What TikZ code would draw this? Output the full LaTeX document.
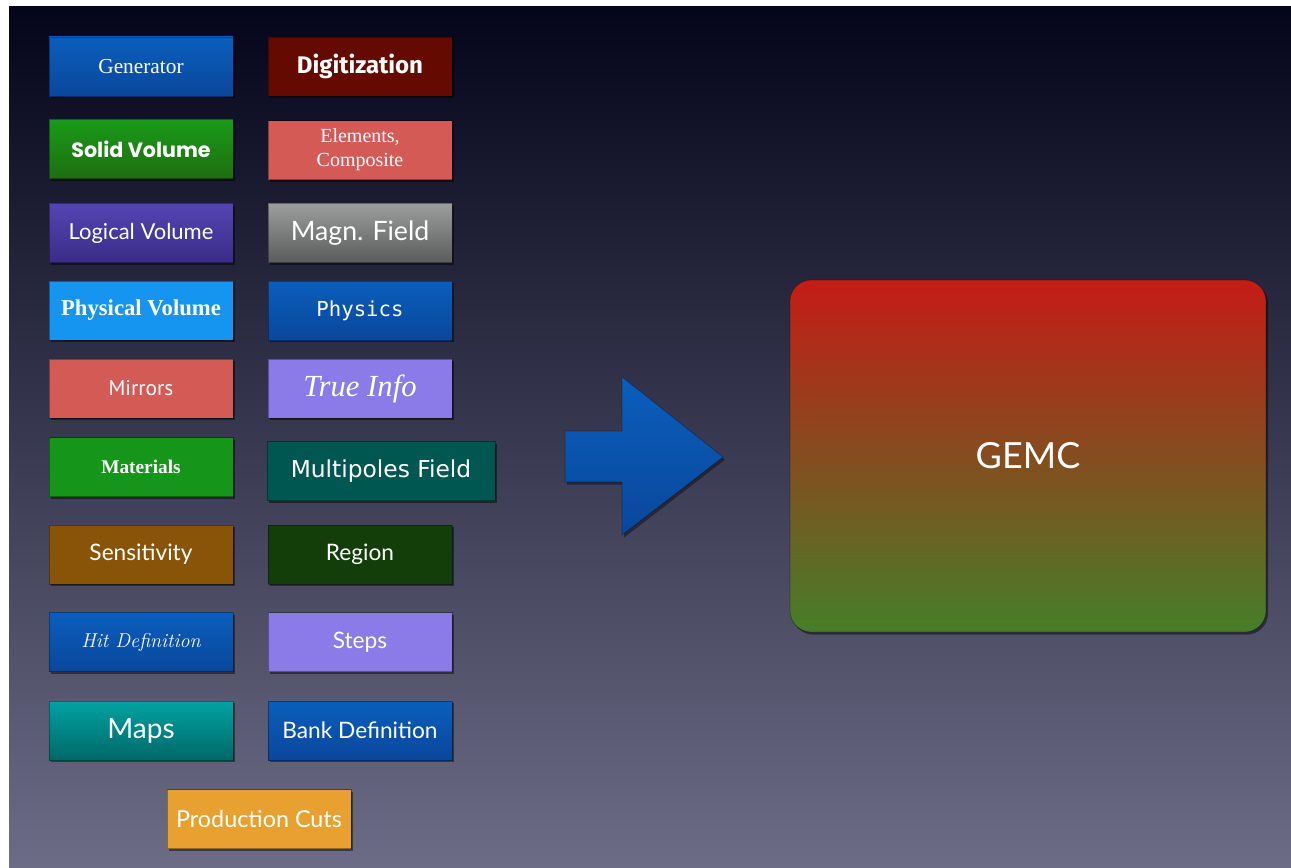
\documentclass[tikz,border=0pt]{standalone}
\usepackage{fontspec}
\usetikzlibrary{shadows}
\newfontfamily\gillf{Lato}
\newfontfamily\baskf{Liberation Serif}
\newfontfamily\futf{Poppins}
\newfontfamily\monof{DejaVu Sans Mono}
\newfontfamily\verdf{DejaVu Sans}
\newfontfamily\digf{Fira Sans}
\newfontfamily\ptf{PT Sans}
\definecolor{bgtop}{HTML}{04041A}
\definecolor{bgmid}{HTML}{28264E}
\definecolor{bgbot}{HTML}{6C6C86}
\definecolor{cblue}{HTML}{0A5EBC}
\definecolor{cbluedk}{HTML}{0A479C}
\definecolor{cdigit}{HTML}{640A00}
\definecolor{cgreen}{HTML}{1A9A1A}
\definecolor{cgreendk}{HTML}{1F6E10}
\definecolor{csalmon}{HTML}{D45A55}
\definecolor{cpurple}{HTML}{5444B4}
\definecolor{cpurpledk}{HTML}{3A2C86}
\definecolor{cgrey}{HTML}{9C9E9E}
\definecolor{cgreydk}{HTML}{5A5C5C}
\definecolor{clblue}{HTML}{1595F0}
\definecolor{clav}{HTML}{8A7BE8}
\definecolor{cmat}{HTML}{15961A}
\definecolor{cmulti}{HTML}{005752}
\definecolor{csens}{HTML}{8A5408}
\definecolor{cregion}{HTML}{133E0A}
\definecolor{cteal}{HTML}{00A2A2}
\definecolor{ctealdk}{HTML}{006868}
\definecolor{corange}{HTML}{E8A030}
\definecolor{cred}{HTML}{C41C16}
\definecolor{cgemcg}{HTML}{467E28}
\tikzset{
  box/.style={draw=black, draw opacity=0.35, line width=0.6pt, minimum width=138pt, minimum height=44.25pt,
    inner sep=0pt, align=center, text=white,
    drop shadow={shadow xshift=1.2pt, shadow yshift=-1.8pt, opacity=0.45, fill=black}},
  flat/.style={box, fill=#1},
  grad/.style 2 args={box, top color=#1, bottom color=#2},
}
\begin{document}
\begin{tikzpicture}[x=0.75pt,y=-0.75pt]
\useasboundingbox (0,0) rectangle (1291,867);
\fill[white] (0,0) rectangle (1291,867);
\shade[top color=bgtop, middle color=bgmid, bottom color=bgbot] (9,7) rectangle (1291,867);
% left column
\node[grad={cblue}{cbluedk}, font=\baskf\fontsize{16}{18}\selectfont] (gen) at (141,66.5) {Generator};
\node[grad={cgreen}{cgreendk}, font=\futf\bfseries\fontsize{15.5}{19}\selectfont] (solid) at (141,149) {Solid Volume};
\node[grad={cpurple}{cpurpledk}, font=\gillf\fontsize{16.5}{18}\selectfont] (logic) at (141,233) {Logical Volume};
\node[flat=clblue, font=\baskf\bfseries\fontsize{17}{19}\selectfont] (phys) at (141,310.5) {Physical Volume};
\node[flat=csalmon, font=\ptf\fontsize{16}{18}\selectfont] (mirr) at (141,388.5) {Mirrors};
\node[flat=cmat, font=\baskf\bfseries\fontsize{14.5}{16}\selectfont] (mat) at (141,467) {Materials};
\node[flat=csens, font=\gillf\fontsize{17}{19}\selectfont] (sens) at (141,554.5) {Sensitivity};
\node[grad={cblue}{cbluedk}, font=\itshape\fontsize{15}{17}\selectfont] (hit) at (141,642) {Hit Definition};
\node[grad={cteal}{ctealdk}, font=\gillf\fontsize{21}{23}\selectfont] (maps) at (141,730.5) {Maps};
% right column
\node[flat=cdigit, font=\digf\bfseries\fontsize{18}{20}\selectfont] (digit) at (360,66.5) {Digitization};
\node[flat=csalmon, font=\baskf\fontsize{15}{18}\selectfont] (elem) at (360,150) {Elements,\\Composite};
\node[grad={cgrey}{cgreydk}, font=\gillf\fontsize{20}{22}\selectfont] (magn) at (360,233) {Magn. Field};
\node[grad={cblue}{cbluedk}, font=\monof\fontsize{15.5}{17}\selectfont] (physics) at (360,310.5) {Physics};
\node[flat=clav, font=\baskf\itshape\fontsize{23}{25}\selectfont] (true) at (360,388.5) {True Info};
\node[flat=cmulti, minimum width=171pt, font=\verdf\fontsize{17.5}{19}\selectfont] (multi) at (381,471) {Multipoles Field};
\node[flat=cregion, font=\gillf\fontsize{17}{19}\selectfont] (region) at (360,554.5) {Region};
\node[flat=clav, font=\gillf\fontsize{17}{19}\selectfont] (steps) at (360,642) {Steps};
\node[grad={cblue}{cbluedk}, font=\gillf\fontsize{17}{19}\selectfont] (bank) at (360,730.5) {Bank Definition};
\node[flat=corange, font=\gillf\fontsize{17.5}{19}\selectfont] (prod) at (259,819) {Production Cuts};
% big arrow
\shade[top color=cblue, bottom color=cbluedk, draw=black, draw opacity=0.3, line width=0.5pt,
  drop shadow={shadow xshift=1.5pt, shadow yshift=-2pt, opacity=0.4, fill=black}]
  (565,431) -- (622,431) -- (622,377) -- (723,457) -- (622,535) -- (622,482) -- (565,482) -- cycle;
% GEMC
\node[rounded corners=16pt, top color=cred, bottom color=cgemcg, draw=black, draw opacity=0.3, line width=0.5pt,
  minimum width=357pt, minimum height=264pt, text=white, font=\gillf\fontsize{27}{30}\selectfont,
  drop shadow={shadow xshift=1.5pt, shadow yshift=-2pt, opacity=0.45, fill=black}]
  (gemc) at (1028,456) {GEMC};
\end{tikzpicture}
\end{document}
